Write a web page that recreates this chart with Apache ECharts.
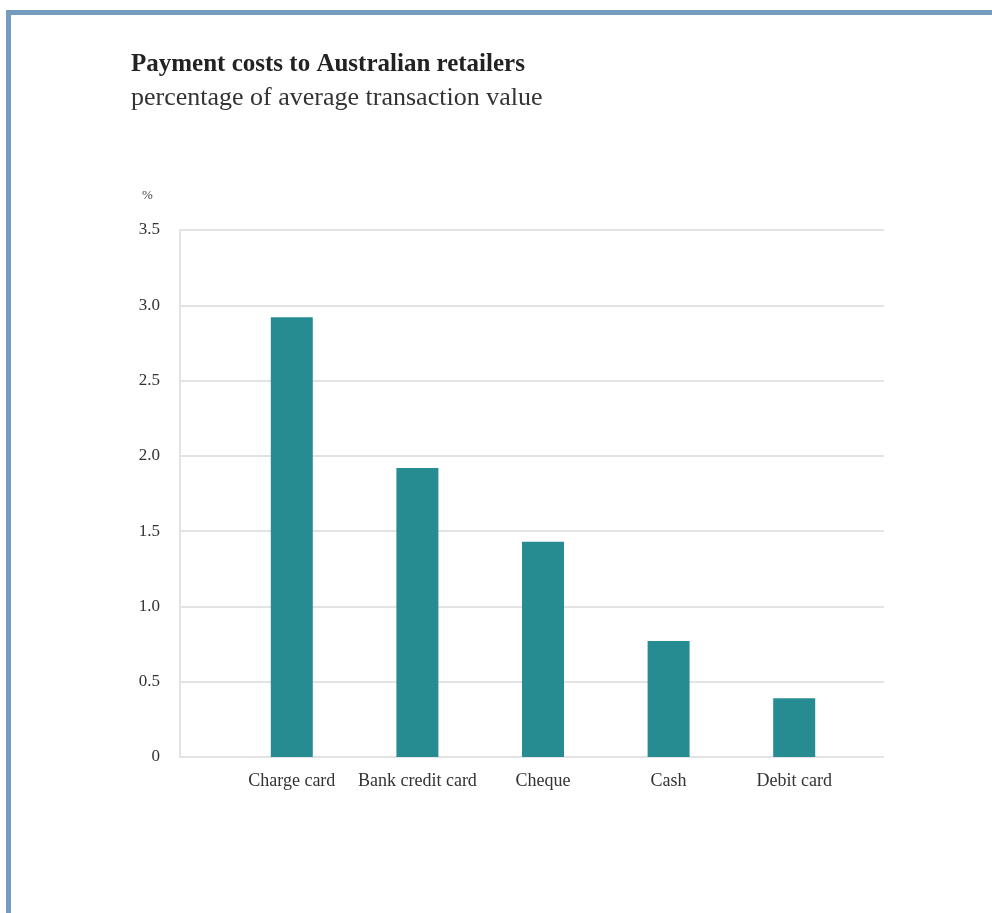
<!DOCTYPE html>
<html>
<head>
<meta charset="utf-8">
<script src="https://cdn.jsdelivr.net/npm/echarts@6/dist/echarts.min.js"></script>
<style>
html,body{margin:0;padding:0;background:#fff;}
#chart{width:992px;height:913px;}
</style>
</head>
<body>
<div id="chart"></div>
<script>
const categories = ['Charge card', 'Bank credit card', 'Cheque', 'Cash', 'Debit card'];
const values = [2.92, 1.92, 1.43, 0.77, 0.39];
const yTicks = {min: 0, max: 3.5, interval: 0.5};

const FONT = '"Liberation Serif", "DejaVu Serif", serif';
const chart = echarts.init(document.getElementById('chart'), null, {renderer: 'canvas'});
chart.setOption({
  backgroundColor: '#fff',
  animation: false,
  title: [
    {text: 'Payment costs to Australian retailers', left: 126, top: 47, padding: 5,
     textStyle: {fontFamily: FONT, fontWeight: 'bold', fontSize: 25, color: '#222'}},
    {text: 'percentage of average transaction value', left: 126, top: 80, padding: 5,
     textStyle: {fontFamily: FONT, fontWeight: 'normal', fontSize: 26, color: '#333'}}
  ],
  graphic: [
    {type: 'rect', shape: {x: 6, y: 10, width: 986, height: 5}, style: {fill: '#739cbf'}},
    {type: 'rect', shape: {x: 6, y: 10, width: 5, height: 903}, style: {fill: '#739cbf'}},
    {type: 'text', left: 142, top: 189, style: {text: '%', font: '13px ' + FONT, fill: '#444'}}
  ],
  grid: [
    {left: 180, top: 230, width: 704, height: 527},
    {left: 229, top: 230, width: 628, height: 527}
  ],
  xAxis: [
    {type: 'category', gridIndex: 0, data: categories, show: false},
    {type: 'category', gridIndex: 1, data: categories,
     axisLine: {show: false}, axisTick: {show: false},
     axisLabel: {interval: 0, fontFamily: FONT, fontSize: 18, color: '#333', margin: 15}}
  ],
  yAxis: [
    {type: 'value', gridIndex: 0, min: yTicks.min, max: yTicks.max, interval: yTicks.interval,
     axisLine: {show: true, lineStyle: {color: '#e3e3e3', width: 2}},
     axisTick: {show: false},
     splitLine: {lineStyle: {color: '#e3e3e3', width: 2}},
     axisLabel: {fontFamily: FONT, fontSize: 17, color: '#333', margin: 20,
       formatter: v => v === 0 ? '0' : v.toFixed(1)}},
    {type: 'value', gridIndex: 1, min: yTicks.min, max: yTicks.max, interval: yTicks.interval, show: false}
  ],
  series: [
    {type: 'bar', xAxisIndex: 1, yAxisIndex: 1, data: values, barWidth: 42,
     itemStyle: {color: '#278c92'}}
  ]
});
</script>
</body>
</html>
